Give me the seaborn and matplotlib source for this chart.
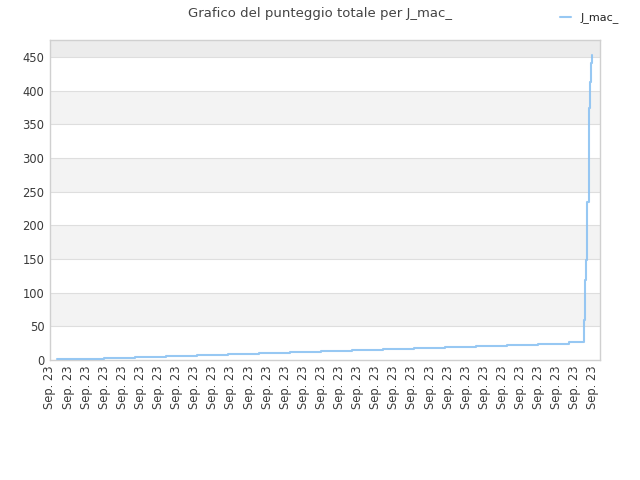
import pandas as pd
import seaborn as sns
import matplotlib.pyplot as plt

# points of the total score line (x in tick units, one tick per label)
x_pos = [0.39, 1.27, 2.98, 4.70, 6.41, 8.12, 9.83, 11.55, 13.26, 14.97,
         16.69, 18.40, 20.11, 21.82, 23.54, 25.25, 26.96, 28.67,
         29.49, 29.54, 29.61, 29.69, 29.76, 29.82, 29.87, 29.93]
punteggio = [1, 2, 3, 5, 6, 8, 9, 11, 12, 13,
             15, 17, 18, 20, 21, 23, 24, 26,
             59, 119, 149, 235, 374, 413, 441, 453]
tick_labels = ["Sep. 23"] * 31
y_ticks = [0, 50, 100, 150, 200, 250, 300, 350, 400, 450]

df = pd.DataFrame({"x": x_pos, "Punteggio": punteggio})

sns.set_style("white")
plt.rcParams['font.family'] = ['DejaVu Sans']

fig = plt.figure(figsize=(6.4, 4.8), dpi=100)
ax = fig.add_axes([50 / 640, 120 / 480, 550 / 640, 320 / 480])

# alternating bands behind the grid
for i, y in enumerate(y_ticks):
    if i % 2 == 1:
        ax.axhspan(y, y + 50, color="#f3f3f3", zorder=0, lw=0)
ax.axhspan(450, 475, color="#ececec", zorder=0, lw=0)
for y in y_ticks[1:]:
    ax.axhline(y, color="#dedede", lw=0.8, zorder=1)

sns.lineplot(data=df, x="x", y="Punteggio", ax=ax, drawstyle="steps-post",
             color="#8cc2f2", lw=1.5, alpha=0.9, sort=False, estimator=None,
             label="J_mac_", zorder=3)

ax.set_xlim(0, 30.39)
ax.set_ylim(0, 475)
ax.set_xticks(range(len(tick_labels)))
ax.set_xticklabels(tick_labels, rotation=90)
ax.set_yticks(y_ticks)
ax.tick_params(axis="both", length=0, labelsize=8.3, colors="#3a3a3a", pad=4)
ax.set_xlabel("")
ax.set_ylabel("")
for s in ax.spines.values():
    s.set_color("#d0d0d0")
    s.set_linewidth(1)

fig.suptitle("Grafico del punteggio totale per J_mac_", y=0.985, fontsize=9.5, color="#444444")
ax.legend(loc="upper right", bbox_to_anchor=(0.982, 0.995), bbox_transform=fig.transFigure,
          frameon=False, fontsize=8, handlelength=1.0, handletextpad=0.8,
          labelcolor="#222222")

fig.savefig("out.png", dpi=100)
